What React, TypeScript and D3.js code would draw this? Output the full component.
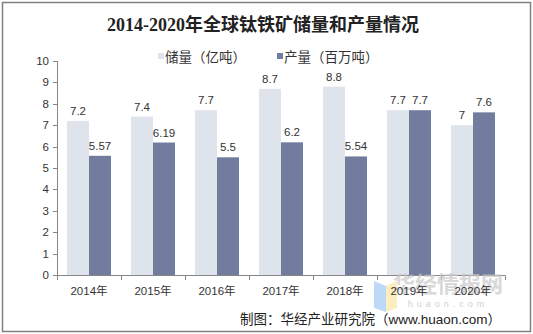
import React from "react";
import * as d3 from "d3";

const years = ["2014年", "2015年", "2016年", "2017年", "2018年", "2019年", "2020年"];
const reserves = [7.2, 7.4, 7.7, 8.7, 8.8, 7.7, 7];
const production = [5.57, 6.19, 5.5, 6.2, 5.54, 7.7, 7.6];
const yTicks = [0, 1, 2, 3, 4, 5, 6, 7, 8, 9, 10];
const seriesNames = ["储量（亿吨）", "产量（百万吨）"];
const title = "2014-2020年全球钛铁矿储量和产量情况";
const source = "制图：华经产业研究院（www.huaon.com）";

const W = 533, H = 334;
const colors = ["#dfe3eb", "#727c9f"];
const font = "'Liberation Sans', Arial, 'Noto Sans CJK SC', sans-serif";

export default function App() {
  const x = d3.scaleBand<string>().domain(years).range([57, 505]).paddingInner(0).paddingOuter(0);
  const inner = d3.scaleBand<number>().domain([0, 1]).range([0, x.bandwidth()]).paddingOuter(0.4545).paddingInner(0);
  const y = d3.scaleLinear().domain([0, 10]).range([275, 61]);
  const series = [reserves, production];
  return (
    <svg width={W} height={H} style={{ position: "absolute", left: 0, top: 0, background: "#fff" }}>
      <rect x={2.5} y={2.5} width={528} height={329} fill="#fff" stroke="#808080" strokeWidth={1.5} />
      <text x={263} y={31} textAnchor="middle" fontSize={18} fontWeight="bold" fill="#222"
        fontFamily="'Liberation Serif', 'Noto Sans CJK SC', serif">{title}</text>
      {/* legend */}
      {seriesNames.map((n, i) => {
        const lx = i === 0 ? 158 : 277;
        return (
          <g key={n}>
            <rect x={lx} y={53} width={6} height={6} fill={colors[i]} />
            <text x={lx + 7} y={62} fontSize={13.5} fill="#333" fontFamily={font}>{n}</text>
          </g>
        );
      })}
      {/* bars */}
      {years.map((yr, ci) => (
        <g key={yr}>
          {series.map((s, si) => {
            const bx = (x(yr) ?? 0) + (inner(si) ?? 0);
            const bw = inner.bandwidth();
            return (
              <g key={si}>
                <rect x={bx} y={y(s[ci])} width={bw} height={y(0) - y(s[ci])} fill={colors[si]} />
                <text x={bx + bw / 2} y={y(s[ci]) - 6} textAnchor="middle" fontSize={11.5} fill="#333" fontFamily={font}>{s[ci]}</text>
              </g>
            );
          })}
        </g>
      ))}
      {/* y axis */}
      <line x1={57.5} x2={57.5} y1={y(10)} y2={y(0)} stroke="#868686" />
      {yTicks.map(t => (
        <g key={t}>
          <line x1={53} x2={57.5} y1={Math.round(y(t)) + 0.5} y2={Math.round(y(t)) + 0.5} stroke="#868686" />
          <text x={49} y={y(t) + 4} textAnchor="end" fontSize={11.5} fill="#333" fontFamily={font}>{t}</text>
        </g>
      ))}
      {/* x axis */}
      <line x1={57} x2={505.5} y1={275.5} y2={275.5} stroke="#868686" />
      {[...years.map(v => x(v) ?? 0), 505].map((px, i) => (
        <line key={i} x1={Math.round(px) + 0.5} x2={Math.round(px) + 0.5} y1={275.5} y2={280} stroke="#868686" />
      ))}
      {/* watermark */}
      <g opacity={0.75}>
        <polygon points="374,281 386,286 386,312 374,308" fill="#a9cdf5" />
        <polygon points="386,286 397,281 397,308 386,312" fill="#fbe9a9" />
      </g>
      <text x={448} y={292} textAnchor="middle" fontSize={22} fontWeight="bold" fill="#c8c8c8" opacity={0.7}
        fontFamily="'Noto Sans CJK SC', sans-serif">华经情报网</text>
      <text x={448} y={307} textAnchor="middle" fontSize={9} fill="#d0d0d0" letterSpacing={4}
        fontFamily={font}>huaon.com</text>
      {years.map(yr => (
        <text key={yr} x={(x(yr) ?? 0) + x.bandwidth() / 2} y={295} textAnchor="middle" fontSize={11.5} fill="#333" fontFamily={font}>{yr}</text>
      ))}
      <text x={501} y={324} textAnchor="end" fontSize={13.5} fill="#222" fontFamily={font}>{source}</text>
    </svg>
  );
}
